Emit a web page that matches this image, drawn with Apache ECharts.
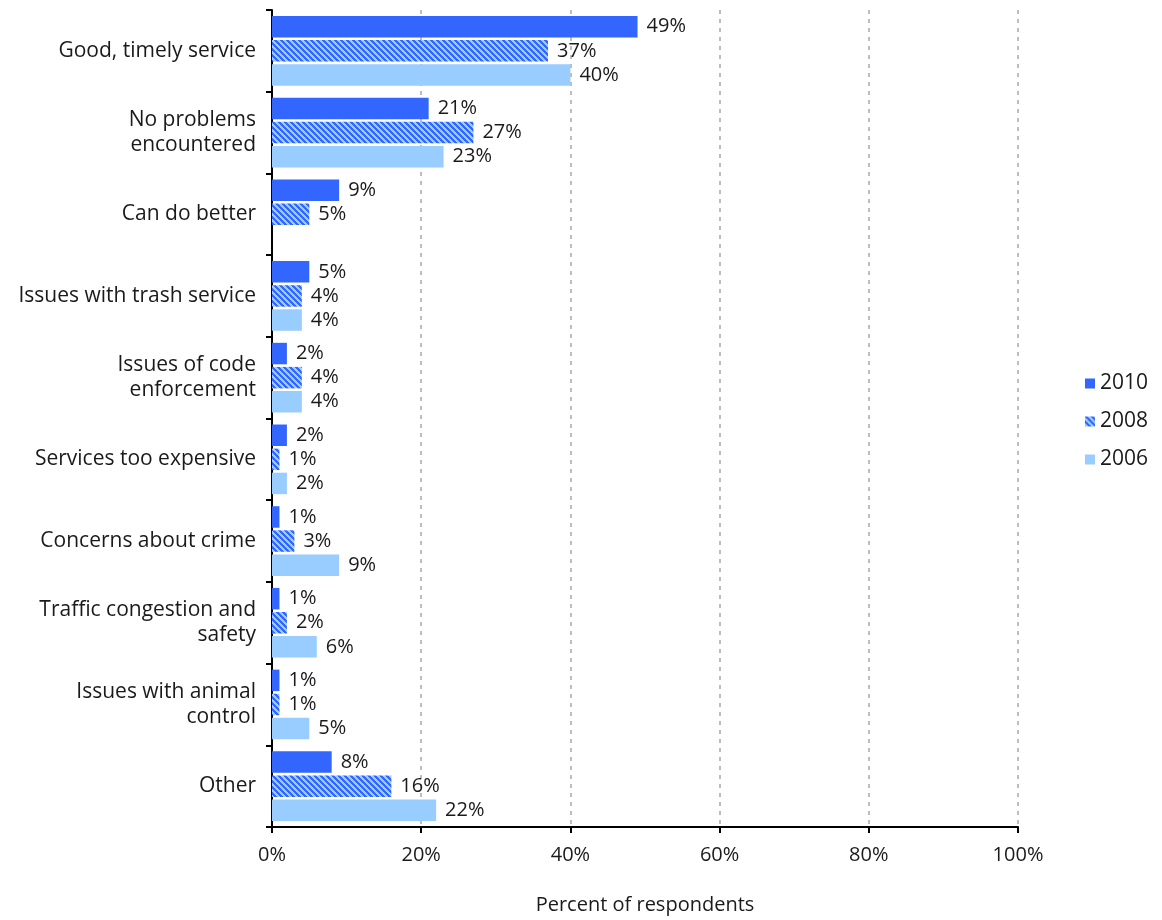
<!DOCTYPE html>
<html>
<head>
<meta charset="utf-8">
<script src="https://cdn.jsdelivr.net/npm/echarts@6/dist/echarts.min.js"></script>
<style>
  html, body { margin: 0; padding: 0; background: #fff; }
  #chart { width: 1162px; height: 920px; }
</style>
</head>
<body>
<div id="chart"></div>
<script>
// Survey responses by category, percent of respondents per survey year
const categories = [
  'Good, timely service',
  'No problems\nencountered',
  'Can do better',
  'Issues with trash service',
  'Issues of code\nenforcement',
  'Services too expensive',
  'Concerns about crime',
  'Traffic congestion and\nsafety',
  'Issues with animal\ncontrol',
  'Other'
];
const values2010 = [49, 21, 9, 5, 2, 2, 1, 1, 1, 8];
const values2008 = [37, 27, 5, 4, 4, 1, 3, 2, 1, 16];
const values2006 = [40, 23, null, 4, 4, 2, 9, 6, 5, 22];
const xTicks = [0, 20, 40, 60, 80, 100];

const FONT = '"Open Sans", "DejaVu Sans", sans-serif';
const TEXT = '#1a1a1a';
const DARK = '#3366FF';
const LIGHT = '#99CCFF';

// Diagonal hatch tile for the 2008 bars
function hatchTile() {
  const size = 6;
  const c = document.createElement('canvas');
  c.width = size; c.height = size;
  const ctx = c.getContext('2d');
  const img = ctx.createImageData(size, size);
  const dark = [0x33, 0x66, 0xFF], light = [0x99, 0xCC, 0xFF];
  for (let y = 0; y < size; y++) {
    for (let x = 0; x < size; x++) {
      const k = ((x - y) % size + size) % size;
      const col = k < 3 ? dark : light;
      const i = (y * size + x) * 4;
      img.data[i] = col[0]; img.data[i + 1] = col[1]; img.data[i + 2] = col[2]; img.data[i + 3] = 255;
    }
  }
  ctx.putImageData(img, 0, 0);
  return c;
}
const hatch = { image: hatchTile(), repeat: 'repeat' };

const labelStyle = {
  show: true,
  position: 'right',
  distance: 9,
  formatter: p => p.value == null ? '' : p.value + '%',
  fontFamily: FONT,
  fontSize: 20,
  color: TEXT
};

function barSeries(name, data, color) {
  return {
    name: name,
    type: 'bar',
    data: data,
    barWidth: 21.5,
    barGap: '12%',
    itemStyle: { color: color },
    label: labelStyle,
    emphasis: { disabled: true }
  };
}

const chart = echarts.init(document.getElementById('chart'), null, { renderer: 'canvas' });
chart.setOption({
  animation: false,
  backgroundColor: '#fff',
  grid: { left: 272, right: 144, top: 10, bottom: 92, containLabel: false },
  legend: {
    orient: 'vertical',
    left: 1080,
    top: 368,
    itemWidth: 10,
    itemHeight: 10,
    itemGap: 17,
    icon: 'rect',
    textStyle: { fontFamily: FONT, fontSize: 21, color: TEXT },
    data: ['2010', '2008', '2006']
  },
  xAxis: {
    type: 'value',
    min: xTicks[0],
    max: xTicks[xTicks.length - 1],
    interval: xTicks[1] - xTicks[0],
    name: 'Percent of respondents',
    nameLocation: 'middle',
    nameGap: 68,
    nameTextStyle: { fontFamily: FONT, fontSize: 20, color: TEXT },
    axisLine: { show: true, lineStyle: { color: '#000', width: 2 } },
    axisTick: { show: true, length: 6, lineStyle: { color: '#000', width: 2 } },
    axisLabel: { formatter: '{value}%', margin: 18, fontFamily: FONT, fontSize: 20, color: TEXT },
    splitLine: { show: true, lineStyle: { color: '#BDBDBD', width: 2, type: [4, 5] } }
  },
  yAxis: {
    type: 'category',
    inverse: true,
    data: categories,
    axisLine: { show: true, lineStyle: { color: '#000', width: 2 } },
    axisTick: { show: true, length: 6, alignWithLabel: false, lineStyle: { color: '#000', width: 2 } },
    axisLabel: { margin: 16, fontFamily: FONT, fontSize: 21, color: TEXT, lineHeight: 25, align: 'right' },
    splitLine: { show: false }
  },
  series: [
    barSeries('2010', values2010, DARK),
    barSeries('2008', values2008, hatch),
    barSeries('2006', values2006, LIGHT)
  ]
});
</script>
</body>
</html>
